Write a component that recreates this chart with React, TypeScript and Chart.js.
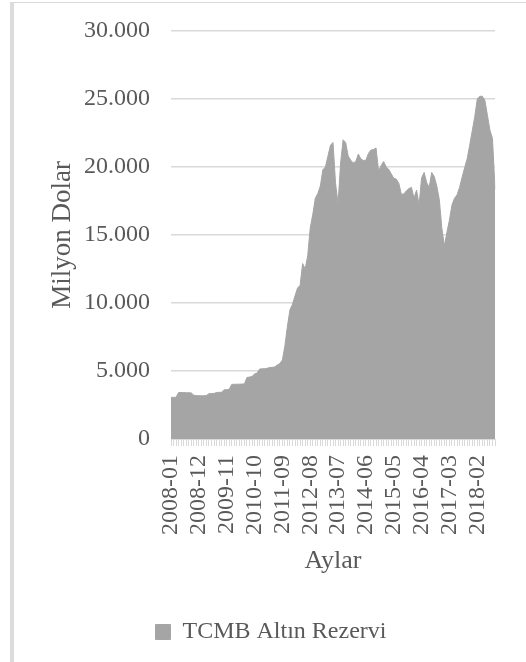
import React, { useEffect, useRef } from 'react';
import { Chart, registerables } from 'chart.js';

Chart.register(...registerables);

const startYear = 2008;
const monthCount = 129;
const categories: string[] = [];
for (let i = 0; i < monthCount; i++) {
  const y = startYear + Math.floor(i / 12);
  const m = (i % 12) + 1;
  categories.push(`${y}-${m < 10 ? '0' + m : m}`);
}

const goldReserve: number[] = [
  3060, 3060, 3070, 3420, 3420, 3410, 3400, 3400, 3390,
  3220, 3190, 3180, 3180, 3180, 3200,
  3330, 3340, 3350, 3420, 3430, 3440,
  3620, 3630, 3650,
  4020, 4020, 4030, 4030, 4040, 4050,
  4530, 4550, 4600, 4780, 4850,
  5140, 5160, 5170, 5200, 5260, 5270, 5300,
  5450, 5550, 5800,
  6860, 8300, 9500, 9900, 10535, 11100, 11300, 12900, 12500, 13475,
  15500, 16500, 17700, 18050, 18600, 19800, 20000, 20800,
  21600, 21800, 18800, 17300, 20300, 22000, 21800, 20800, 20500, 20300,
  20400, 20950, 20600, 20480, 20500, 21000, 21250, 21280, 21400, 19700,
  20100, 20400, 20000, 19830, 19500, 19170, 19110, 18800, 18000, 18020,
  18250, 18420, 18500, 17700, 18300, 17200, 19200, 19600, 18850, 18500,
  19600, 19300, 18600, 17600, 15500, 14200, 15200, 16100, 17200, 17700,
  17950, 18500, 19250, 19950, 20600, 21600, 22650, 23700, 25000, 25200,
  25200, 24900, 23800, 22700, 22100, 18400,
];

const yTicks: number[] = [0, 5000, 10000, 15000, 20000, 25000, 30000];
const labelEvery = 11;
const seriesName = 'TCMB Altın Rezervi';
const xTitle = 'Aylar';
const yTitle = 'Milyon Dolar';

const FONT = '"Liberation Serif", "Times New Roman", serif';
const TEXT = '#595959';
const GRID = '#d9d9d9';
const FILL = '#a5a5a5';

function fmt(v: number): string {
  return String(v).replace(/\B(?=(\d{3})+(?!\d))/g, '.');
}

export default function App() {
  const ref = useRef<HTMLCanvasElement | null>(null);

  useEffect(() => {
    document.body.style.margin = '0';
    const canvas = ref.current;
    if (!canvas) return;
    const chart = new Chart(canvas, {
      type: 'line',
      data: {
        labels: categories,
        datasets: [
          {
            label: seriesName,
            data: goldReserve,
            fill: 'origin',
            backgroundColor: FILL,
            borderColor: FILL,
            borderWidth: 1,
            pointRadius: 0,
            tension: 0,
          },
        ],
      },
      options: {
        responsive: false,
        animation: false,
        devicePixelRatio: 1,
        layout: { padding: { left: 47, right: 31, top: 31, bottom: 8 } },
        plugins: {
          tooltip: { enabled: false },
          legend: {
            display: true,
            position: 'bottom',
            labels: {
              boxWidth: 15,
              boxHeight: 15,
              padding: 10,
              color: TEXT,
              font: { family: FONT, size: 24 },
            },
          },
        },
        scales: {
          x: {
            type: 'category',
            offset: false,
            grid: {
              display: true,
              drawOnChartArea: false,
              drawTicks: true,
              tickLength: 7,
              color: GRID,
              lineWidth: 1,
            },
            border: { display: true, color: GRID, width: 1 },
            ticks: {
              autoSkip: false,
              maxRotation: 90,
              minRotation: 90,
              padding: 9,
              color: TEXT,
              font: { family: FONT, size: 24 },
              callback: (_v: any, i: number) => (i % labelEvery === 0 ? categories[i] : ''),
            },
            title: {
              display: true,
              text: xTitle,
              color: TEXT,
              font: { family: FONT, size: 26 },
              padding: { top: 0, bottom: 33 },
            },
            afterFit: (s: any) => {
              s.height = 171;
              s.paddingLeft = 0;
              s.paddingRight = 0;
            },
          },
          y: {
            min: 0,
            max: 30000,
            afterBuildTicks: (s: any) => {
              s.ticks = yTicks.map((v) => ({ value: v }));
            },
            grid: { color: GRID, lineWidth: 1.5, drawTicks: false },
            border: { display: false },
            ticks: {
              padding: 21,
              color: TEXT,
              font: { family: FONT, size: 24 },
              callback: (v: any) => fmt(Number(v)),
            },
            title: {
              display: true,
              text: yTitle,
              color: TEXT,
              font: { family: FONT, size: 27 },
              padding: { top: 0, bottom: 0 },
            },
            afterFit: (s: any) => {
              s.width = 124;
              s.paddingTop = 0;
              s.paddingBottom = 0;
            },
          },
        },
      },
    } as any);
    return () => chart.destroy();
  }, []);

  return (
    <div style={{ position: 'relative', width: 526, height: 662, background: '#fff', overflow: 'hidden' }}>
      <div style={{ position: 'absolute', left: 10, top: 2, width: 516, height: 1, background: GRID }} />
      <div style={{ position: 'absolute', left: 10, top: 2, width: 4, height: 660, background: '#dcdcdc' }} />
      <canvas ref={ref} width={526} height={662} style={{ position: 'absolute', left: 0, top: 0, width: 526, height: 662 }} />
    </div>
  );
}
